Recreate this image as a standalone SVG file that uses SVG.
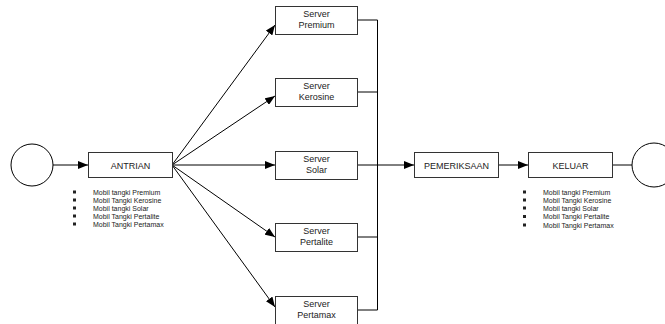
<svg xmlns="http://www.w3.org/2000/svg" width="665" height="324" viewBox="0 0 665 324">
<style>
.box{fill:#fff;stroke:#333;stroke-width:1}
.ln{fill:none;stroke:#000;stroke-width:1}
.t{font-family:"Liberation Sans",Arial,sans-serif;font-size:9px;fill:#222;text-anchor:middle}
.s{font-family:"Liberation Sans",Arial,sans-serif;font-size:7px;fill:#222}
.b{fill:#222}
</style>
<defs>
<marker id="ah" viewBox="0 0 10 8" refX="10" refY="4" markerWidth="10" markerHeight="8" markerUnits="userSpaceOnUse" orient="auto">
<path d="M0,0 L10,4 L0,8 Z" fill="#000"/>
</marker>
</defs>
<g id="connectors">
<line class="ln" x1="53" y1="165" x2="88" y2="165" marker-end="url(#ah)"/>
<line class="ln" x1="172" y1="165" x2="275" y2="25" marker-end="url(#ah)"/>
<line class="ln" x1="172" y1="165" x2="275" y2="96" marker-end="url(#ah)"/>
<line class="ln" x1="172" y1="165" x2="275" y2="165" marker-end="url(#ah)"/>
<line class="ln" x1="172" y1="165" x2="275" y2="237" marker-end="url(#ah)"/>
<line class="ln" x1="172" y1="165" x2="275" y2="307" marker-end="url(#ah)"/>
<polyline class="ln" points="357,20 377.5,20 377.5,310 357,310"/>
<line class="ln" x1="357" y1="92" x2="377.5" y2="92"/>
<line class="ln" x1="357" y1="165" x2="377.5" y2="165"/>
<line class="ln" x1="357" y1="237" x2="377.5" y2="237"/>
<line class="ln" x1="377.5" y1="165" x2="414" y2="165" marker-end="url(#ah)"/>
<line class="ln" x1="498" y1="165" x2="528" y2="165" marker-end="url(#ah)"/>
<line class="ln" x1="612" y1="165" x2="632" y2="165"/>
</g>
<g id="start">
<circle cx="32" cy="165" r="21" fill="#fff" stroke="#000" stroke-width="1"/>
</g>
<g id="antrian">
<rect class="box" x="88.5" y="152.5" width="84" height="25"/>
<text class="t" x="130.5" y="168.5">ANTRIAN</text>
</g>
<g id="list-antrian">
<rect class="b" x="73" y="190.5" width="3" height="3"/>
<rect class="b" x="73" y="198.5" width="3" height="3"/>
<rect class="b" x="73" y="206.5" width="3" height="3"/>
<rect class="b" x="73" y="214.5" width="3" height="3"/>
<rect class="b" x="73" y="222.5" width="3" height="3"/>
<text class="s" x="93" y="194.5">Mobil tangki Premium</text>
<text class="s" x="93" y="202.5">Mobil Tangki Kerosine</text>
<text class="s" x="93" y="210.5">Mobil tangki Solar</text>
<text class="s" x="93" y="218.5">Mobil Tangki Pertalite</text>
<text class="s" x="93" y="226.5">Mobil Tangki Pertamax</text>
</g>
<g id="server-premium">
<rect class="box" x="275.5" y="6.5" width="82" height="28"/>
<text class="t" x="316.5" y="17">Server</text>
<text class="t" x="316.5" y="28">Premium</text>
</g>
<g id="server-kerosine">
<rect class="box" x="275.5" y="78.5" width="82" height="28"/>
<text class="t" x="316.5" y="89">Server</text>
<text class="t" x="316.5" y="100">Kerosine</text>
</g>
<g id="server-solar">
<rect class="box" x="275.5" y="151.5" width="82" height="28"/>
<text class="t" x="316.5" y="162">Server</text>
<text class="t" x="316.5" y="173">Solar</text>
</g>
<g id="server-pertalite">
<rect class="box" x="275.5" y="223.5" width="82" height="28"/>
<text class="t" x="316.5" y="234">Server</text>
<text class="t" x="316.5" y="245">Pertalite</text>
</g>
<g id="server-pertamax">
<rect class="box" x="275.5" y="296.5" width="82" height="30"/>
<text class="t" x="316.5" y="307">Server</text>
<text class="t" x="316.5" y="318">Pertamax</text>
</g>
<g id="pemeriksaan">
<rect class="box" x="414.5" y="152.5" width="84" height="25"/>
<text class="t" x="456.5" y="168.5">PEMERIKSAAN</text>
</g>
<g id="keluar">
<rect class="box" x="528.5" y="152.5" width="84" height="25"/>
<text class="t" x="570.5" y="168.5">KELUAR</text>
</g>
<g id="list-keluar">
<rect class="b" x="523" y="190.5" width="3" height="3"/>
<rect class="b" x="523" y="198.5" width="3" height="3"/>
<rect class="b" x="523" y="206.5" width="3" height="3"/>
<rect class="b" x="523" y="215" width="3" height="3"/>
<rect class="b" x="523" y="223.5" width="3" height="3"/>
<text class="s" x="543" y="194.5">Mobil tangki Premium</text>
<text class="s" x="543" y="202.5">Mobil Tangki Kerosine</text>
<text class="s" x="543" y="210.5">Mobil tangki Solar</text>
<text class="s" x="543" y="219">Mobil Tangki Pertalite</text>
<text class="s" x="543" y="227.5">Mobil Tangki Pertamax</text>
</g>
<g id="end">
<circle cx="654" cy="165" r="22" fill="#fff" stroke="#000" stroke-width="1"/>
</g>
</svg>
